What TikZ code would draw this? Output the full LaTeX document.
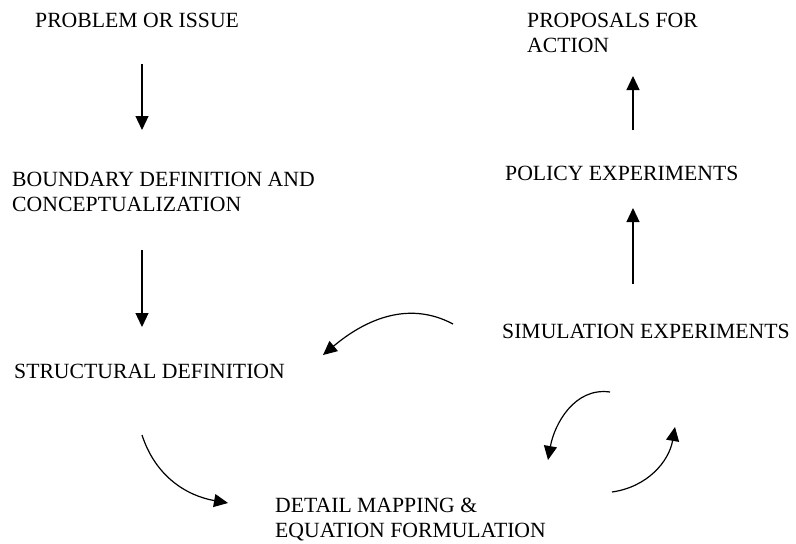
\documentclass[tikz,border=0pt]{standalone}
\usepackage{fontspec}
\setmainfont{Liberation Serif}
\usetikzlibrary{arrows.meta}
\tikzset{
  label/.style={anchor=base west, inner sep=0pt, align=left,
    font=\fontsize{21.7}{25}\selectfont},
  flow/.style={-{Triangle[length=14pt,width=13pt]}, line width=1.2pt}
}
\begin{document}
\begin{tikzpicture}[x=1pt,y=1pt]
\useasboundingbox (0,0) rectangle (796,-544);
% stages of the modelling process (multi-line labels sit on their last baseline)
\node[label] (problem)  at (35,-27)  {PROBLEM OR ISSUE};
\node[label] (boundary) at (12,-211) {BOUNDARY DEFINITION AND\\CONCEPTUALIZATION};
\node[label] (struct)   at (14,-378) {STRUCTURAL DEFINITION};
\node[label] (detail)   at (275,-537) {DETAIL MAPPING \&\\EQUATION FORMULATION};
\node[label] (sim)      at (502,-338) {SIMULATION EXPERIMENTS};
\node[label] (policy)   at (505,-180) {POLICY EXPERIMENTS};
\node[label] (action)   at (527,-52) {PROPOSALS FOR\\ACTION};
% arrow end points
\coordinate (a1s) at (142,-64);  \coordinate (a1e) at (142,-130);
\coordinate (a2s) at (142,-250); \coordinate (a2e) at (142,-327);
\coordinate (a3s) at (142,-435); \coordinate (a3e) at (228,-503);
\coordinate (a4s) at (610,-392); \coordinate (a4e) at (548,-460);
\coordinate (a5s) at (612,-492); \coordinate (a5e) at (675,-427);
\coordinate (a6s) at (453,-324); \coordinate (a6e) at (323,-355);
\coordinate (a7s) at (633,-284); \coordinate (a7e) at (633,-208);
\coordinate (a8s) at (633,-130); \coordinate (a8e) at (633,-76);
% connectors
\draw[flow] (a1s) -- (a1e);
\draw[flow] (a2s) -- (a2e);
\draw[flow] (a3s) to[out=-72,in=170] (a3e);
\draw[flow] (a4s) to[out=172,in=80] (a4e);
\draw[flow] (a5s) to[out=8,in=-100] (a5e);
\draw[flow] (a6s) to[out=152,in=40] (a6e);
\draw[flow] (a7s) -- (a7e);
\draw[flow] (a8s) -- (a8e);
\end{tikzpicture}
\end{document}
